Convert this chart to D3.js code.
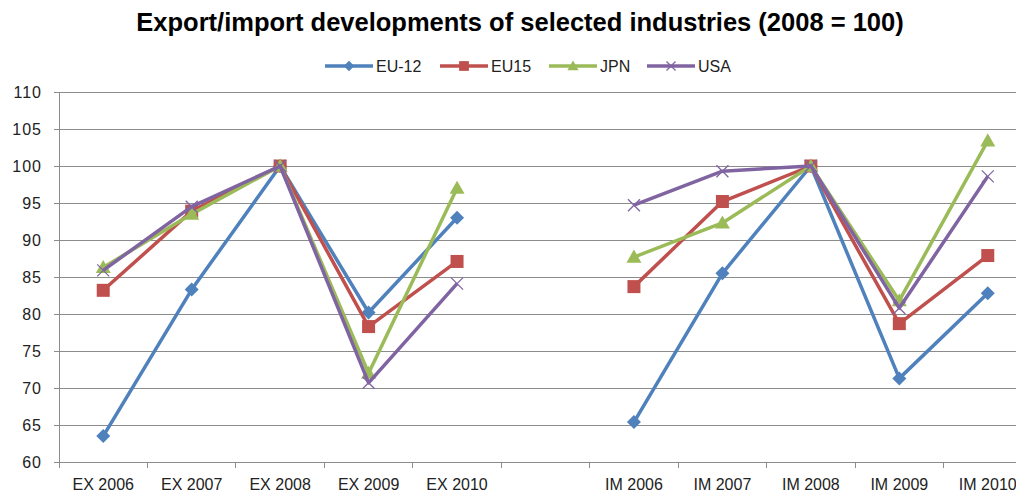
<!DOCTYPE html>
<html><head><meta charset="utf-8">
<script src="https://cdn.jsdelivr.net/npm/d3@7"></script>
<style>body{margin:0;background:#fff;} svg{display:block;} text{font-family:"Liberation Sans",Arial,sans-serif;}</style>
</head><body><svg id="c" width="1016" height="492"></svg>
<script>
const categories = ["EX 2006","EX 2007","EX 2008","EX 2009","EX 2010","","IM 2006","IM 2007","IM 2008","IM 2009","IM 2010"];
const seriesNames = ["EU-12","EU15","JPN","USA"];
const eu12 = [63.5, 83.3, 100, 80.2, 93.0, null, 65.4, 85.5, 100, 71.3, 82.8];
const eu15 = [83.2, 93.9, 100, 78.3, 87.1, null, 83.7, 95.2, 100, 78.7, 87.9];
const jpn  = [86.3, 93.5, 100, 72.0, 97.0, null, 87.7, 92.3, 100, 81.8, 103.4];
const usa  = [85.9, 94.5, 100, 70.7, 84.1, null, 94.7, 99.3, 100, 80.8, 98.6];
const yTicks = [60,65,70,75,80,85,90,95,100,105,110];
const colors = ["#4F81BD","#C0504D","#9BBB59","#8064A2"];
const markers = ["diamond","square","triangle","x"];
const allSeries = [eu12, eu15, jpn, usa];

(function(){
const svg = d3.select("#c");
const pL = 59, pR = 1032, pT = 92, pB = 462;
const x = d3.scaleBand().domain(categories.map((c,i)=>i)).range([pL, pR]).padding(0);
const y = d3.scaleLinear().domain([60,110]).range([pB, pT]);
const font = "'Liberation Sans',Arial,sans-serif";

// title
svg.append("text").attr("x", 520).attr("y", 31).attr("text-anchor","middle")
  .attr("font-size", 25.5).attr("font-weight","bold").attr("fill","#000")
  .text("Export/import developments of selected industries (2008 = 100)");

// gridlines
svg.append("g").selectAll("line").data(yTicks).join("line")
  .attr("x1", pL).attr("x2", pR).attr("y1", d=>y(d)).attr("y2", d=>y(d))
  .attr("stroke", "#8c8c8c").attr("stroke-width", 1).attr("shape-rendering","crispEdges");

// y axis
const yAxis = d3.axisLeft(y).tickValues(yTicks).tickSize(5).tickPadding(12);
const gy = svg.append("g").attr("transform", `translate(${pL},0)`).call(yAxis);
gy.select(".domain").attr("stroke","#8c8c8c");
gy.selectAll(".tick line").attr("stroke","#8c8c8c");
gy.selectAll("text").attr("font-size", 16).attr("fill","#222").attr("font-family", font).attr("letter-spacing", 1);

// x axis
const xAxis = d3.axisBottom(x).tickSize(0).tickPadding(17).tickFormat(i=>categories[i]);
const gx = svg.append("g").attr("transform", `translate(0,${pB})`).call(xAxis);
gx.select(".domain").attr("stroke","#8c8c8c");
gx.selectAll("text").attr("font-size", 16).attr("fill","#222").attr("font-family", font);
// boundary ticks
const bounds = d3.range(categories.length+1).map(i => pL + i*x.step());
svg.append("g").selectAll("line").data(bounds).join("line")
  .attr("x1", d=>d).attr("x2", d=>d).attr("y1", pB).attr("y2", pB+6)
  .attr("stroke","#8c8c8c").attr("shape-rendering","crispEdges");

function drawMarker(g, type, color, cx, cy, k) {
  k = k || 1;
  if (type === "diamond") {
    const s = 7*k;
    g.append("path").attr("d", `M${cx},${cy-s}L${cx+s},${cy}L${cx},${cy+s}L${cx-s},${cy}Z`).attr("fill", color);
  } else if (type === "square") {
    const s = 6.5*k;
    g.append("rect").attr("x", cx-s).attr("y", cy-s).attr("width", 2*s).attr("height", 2*s).attr("fill", color);
  } else if (type === "triangle") {
    const s = 7.5*k;
    g.append("path").attr("d", `M${cx},${cy-s}L${cx+s},${cy+s*0.75}L${cx-s},${cy+s*0.75}Z`).attr("fill", color);
  } else {
    const s = 6*k;
    g.append("path").attr("d", `M${cx-s},${cy-s}L${cx+s},${cy+s}M${cx-s},${cy+s}L${cx+s},${cy-s}`).attr("stroke", color).attr("stroke-width", 1.3);
  }
}

const line = d3.line().defined(d => d.v !== null).x(d => x(d.i) + x.bandwidth()/2).y(d => y(d.v));
allSeries.forEach((vals, si) => {
  const g = svg.append("g");
  const pts = vals.map((v,i)=>({i, v}));
  g.append("path").attr("d", line(pts)).attr("fill","none").attr("stroke", colors[si])
    .attr("stroke-width", 3.5).attr("stroke-linejoin","round");
  pts.filter(d=>d.v!==null).forEach(d => drawMarker(g, markers[si], colors[si], x(d.i)+x.bandwidth()/2, y(d.v)));
});

// legend
const legendX = [325, 440, 549, 647];
seriesNames.forEach((n, si) => {
  const g = svg.append("g");
  const lx = legendX[si], ly = 66;
  g.append("line").attr("x1", lx).attr("x2", lx+48).attr("y1", ly).attr("y2", ly)
    .attr("stroke", colors[si]).attr("stroke-width", 3.5);
  drawMarker(g, markers[si], colors[si], lx+24, ly, 0.75);
  g.append("text").attr("x", lx+51).attr("y", ly+6).attr("font-size", 16).attr("fill","#222").attr("font-family", font).text(n);
});
})();
</script></body></html>
